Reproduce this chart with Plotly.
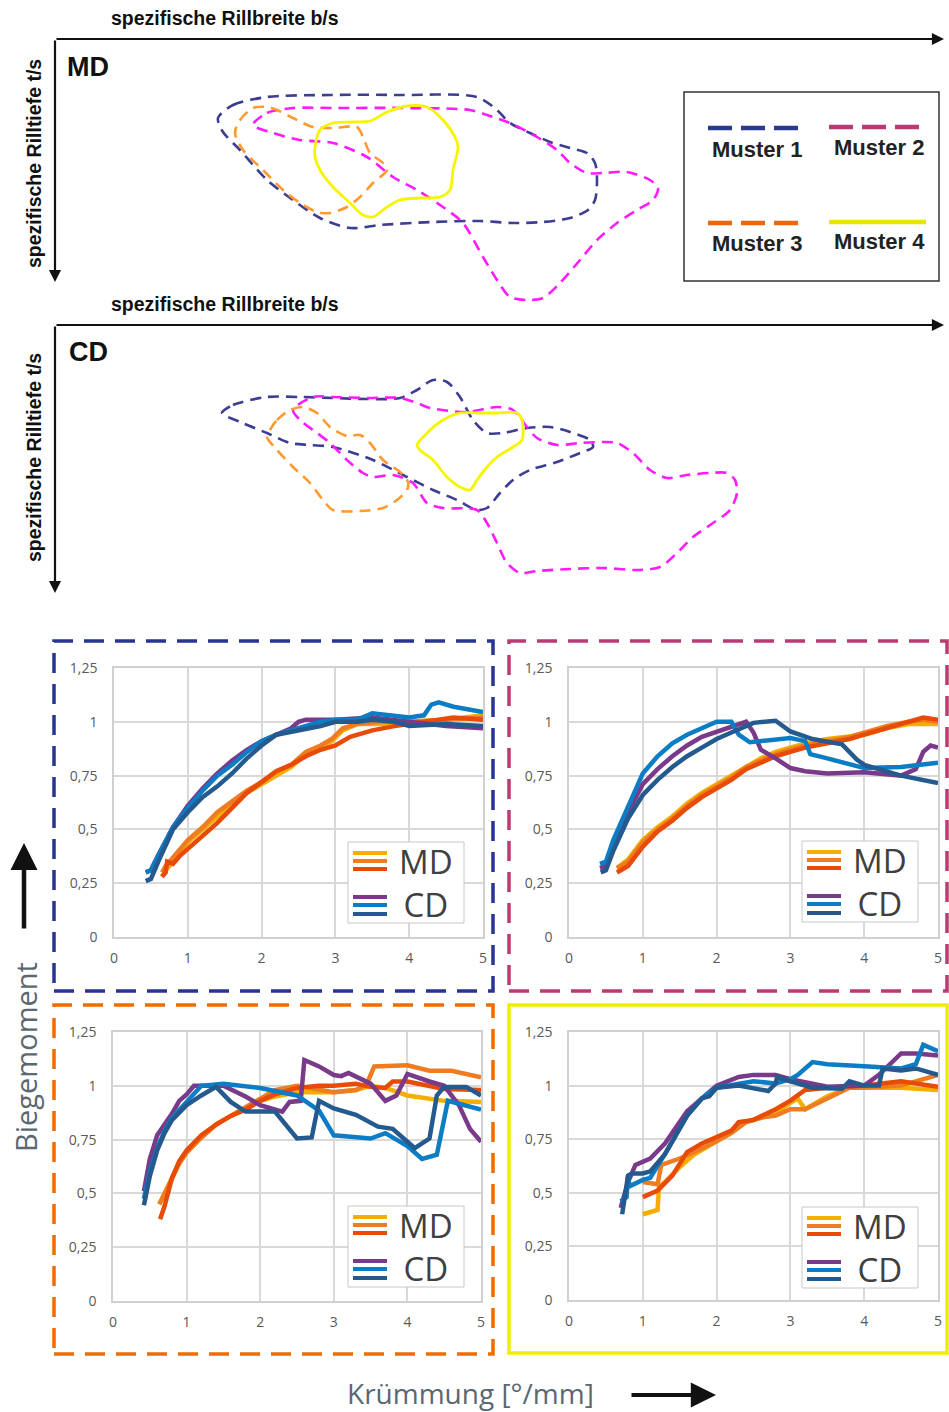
import plotly.graph_objects as go

W, H = 949, 1412

# ---------------- contour data: b/s (x) and t/s (y), arbitrary units from panel origin ----------------
MD_M1_B = [163,178,212,275,345,422,442,455,475,495,515,532,540,542,540,533,515,488,458,425,378,325,295,265,238,212,185,168,163]
MD_M1_T = [79,66,58,56,56,58,71,84,94,103,109,114,124,141,161,171,179,183,184,182,183,186,189,179,161,141,111,93,79]
MD_M2_B = [198,212,238,278,345,415,432,455,482,502,515,532,548,572,595,603,598,582,562,542,525,505,488,472,455,442,428,408,388,362,338,312,278,245,218,198]
MD_M2_T = [86,74,69,69,69,71,76,84,98,111,124,134,134,133,141,149,161,171,184,201,221,244,259,261,258,241,218,184,168,151,138,118,104,101,94,86]
MD_M3_B = [180,185,198,212,222,238,258,278,302,308,315,328,332,318,305,292,275,262,245,228,208,188,180]
MD_M3_T = [94,81,69,68,71,79,88,89,88,98,114,124,131,144,158,168,174,173,164,151,131,111,94]
MD_M4_B = [260,265,278,298,315,332,352,372,388,400,403,398,395,385,365,345,332,318,308,295,278,265,260,260]
MD_M4_T = [108,91,84,83,82,73,67,68,81,98,108,131,151,158,159,161,168,178,176,164,148,131,118,108]

CD_M1_B = [167,178,212,245,278,312,345,362,378,392,405,418,432,448,472,495,515,535,538,525,502,475,458,445,432,422,402,378,352,318,278,255,235,212,185,167]
CD_M1_T = [88,80,72,72,73,74,73,65,55,57,72,95,108,108,103,102,107,115,122,128,137,145,155,168,183,185,175,165,152,135,122,120,118,108,97,88]
CD_M2_B = [238,258,278,312,345,362,375,412,442,458,472,482,502,525,548,562,578,595,612,632,655,672,680,682,675,658,638,622,605,582,548,515,482,465,452,442,432,422,388,372,358,338,318,308,292,275,262,245,238]
CD_M2_T = [85,72,72,73,73,78,83,87,82,85,102,113,120,118,117,118,128,145,153,150,148,148,155,168,185,198,212,228,242,245,243,244,246,248,238,218,198,185,183,178,158,150,152,148,135,118,108,95,85]
CD_M3_B = [215,222,235,248,262,275,292,305,315,328,345,353,352,342,328,305,278,268,255,238,222,212,215]
CD_M3_T = [105,95,85,82,88,102,111,110,118,135,147,157,165,175,183,186,185,175,158,142,125,112,105]
CD_M4_B = [362,372,388,405,425,442,462,467,467,458,442,432,422,415,405,392,378,365,362]
CD_M4_T = [120,108,95,88,88,88,88,95,115,122,132,142,155,165,162,152,135,125,120]

MUSTER_NAMES = ["Muster 1", "Muster 2", "Muster 3", "Muster 4"]
PANEL_NAMES = ["MD", "CD"]

# ---------------- Biegemoment vs. Krümmung curves ----------------
X_TICKS = [0, 1, 2, 3, 4, 5]
X_TICK_LABELS = ["0", "1", "2", "3", "4", "5"]
Y_TICKS = [0, 0.25, 0.5, 0.75, 1, 1.25]
Y_TICK_LABELS = ["0", "0,25", "0,5", "0,75", "1", "1,25"]

# Muster 1
M1_MD_A_X = [0.65,0.7,0.8,0.9,1.0,1.2,1.4,1.6,1.8,2.0,2.2,2.4,2.6,2.8,2.95,3.1,3.3,3.6,4.0,4.5,5.0]
M1_MD_A_Y = [0.28,0.31,0.35,0.40,0.44,0.50,0.56,0.62,0.67,0.71,0.75,0.79,0.85,0.88,0.91,0.96,0.99,0.99,1.0,1.01,1.03]
M1_MD_B_X = [0.65,0.7,0.8,0.9,1.0,1.2,1.4,1.6,1.8,2.0,2.2,2.4,2.6,2.8,2.95,3.1,3.3,3.6,4.0,4.5,5.0]
M1_MD_B_Y = [0.30,0.33,0.37,0.41,0.45,0.51,0.58,0.63,0.68,0.72,0.77,0.80,0.86,0.89,0.92,0.97,0.99,1.0,1.0,1.01,1.02]
M1_MD_C_X = [0.65,0.7,0.72,0.8,0.9,1.0,1.2,1.4,1.6,1.8,2.0,2.2,2.4,2.6,2.8,3.0,3.2,3.5,3.8,4.0,4.3,4.6,5.0]
M1_MD_C_Y = [0.28,0.30,0.35,0.34,0.38,0.41,0.47,0.53,0.60,0.67,0.72,0.77,0.80,0.84,0.87,0.89,0.93,0.96,0.98,0.99,1.01,1.02,1.01]
M1_CD_D_X = [0.43,0.5,0.6,0.7,0.8,1.0,1.2,1.4,1.6,1.8,2.0,2.2,2.4,2.5,2.6,2.8,3.0,3.5,4.0,4.5,5.0]
M1_CD_D_Y = [0.30,0.31,0.38,0.45,0.51,0.61,0.69,0.76,0.82,0.87,0.91,0.94,0.97,1.0,1.01,1.01,1.01,1.02,1.0,0.98,0.97]
M1_CD_E_X = [0.43,0.5,0.6,0.7,0.8,1.0,1.2,1.4,1.6,1.8,2.0,2.2,2.5,2.8,3.0,3.3,3.5,3.7,4.0,4.2,4.3,4.4,4.6,5.0]
M1_CD_E_Y = [0.30,0.31,0.38,0.45,0.51,0.60,0.68,0.75,0.80,0.86,0.91,0.94,0.97,1.0,1.01,1.01,1.04,1.03,1.02,1.03,1.08,1.09,1.07,1.045]
M1_CD_F_X = [0.43,0.5,0.6,0.7,0.8,1.0,1.2,1.4,1.6,1.8,2.0,2.2,2.5,2.8,3.0,3.3,3.5,3.8,4.0,4.5,5.0]
M1_CD_F_Y = [0.26,0.27,0.35,0.43,0.50,0.58,0.65,0.70,0.76,0.83,0.89,0.94,0.96,0.98,1.0,1.0,1.01,1.0,0.98,0.99,0.98]

# Muster 2
M2_MD_A_X = [0.65,0.8,1.0,1.2,1.4,1.6,1.8,2.0,2.2,2.4,2.6,2.8,3.0,3.2,3.5,3.8,4.0,4.3,4.6,4.8,5.0]
M2_MD_A_Y = [0.32,0.36,0.45,0.51,0.56,0.62,0.67,0.71,0.75,0.79,0.83,0.86,0.88,0.90,0.92,0.93,0.94,0.97,0.99,0.99,0.99]
M2_MD_B_X = [0.65,0.8,1.0,1.2,1.4,1.6,1.8,2.0,2.2,2.4,2.6,2.8,3.0,3.2,3.5,3.8,4.0,4.3,4.6,4.8,5.0]
M2_MD_B_Y = [0.32,0.35,0.44,0.50,0.55,0.61,0.66,0.70,0.74,0.79,0.82,0.85,0.87,0.89,0.91,0.93,0.95,0.98,1.0,1.01,1.0]
M2_MD_C_X = [0.65,0.8,1.0,1.2,1.4,1.6,1.8,2.0,2.2,2.4,2.6,2.8,3.0,3.2,3.5,3.8,4.0,4.3,4.6,4.8,5.0]
M2_MD_C_Y = [0.30,0.33,0.42,0.49,0.54,0.60,0.65,0.69,0.73,0.78,0.81,0.84,0.86,0.88,0.90,0.92,0.94,0.97,1.0,1.02,1.01]
M2_CD_D_X = [0.42,0.5,0.6,0.8,1.0,1.2,1.4,1.6,1.8,2.0,2.2,2.4,2.5,2.6,2.8,3.0,3.2,3.5,4.0,4.5,4.7,4.8,4.9,5.0]
M2_CD_D_Y = [0.32,0.33,0.42,0.58,0.71,0.78,0.84,0.89,0.93,0.955,0.98,1.0,0.95,0.87,0.83,0.785,0.77,0.76,0.765,0.75,0.78,0.86,0.89,0.88]
M2_CD_E_X = [0.42,0.5,0.6,0.8,1.0,1.2,1.4,1.6,1.8,2.0,2.2,2.3,2.45,2.8,3.0,3.2,3.27,3.5,4.0,4.5,5.0]
M2_CD_E_Y = [0.34,0.35,0.45,0.61,0.76,0.84,0.90,0.94,0.97,1.0,1.0,0.94,0.905,0.915,0.925,0.91,0.85,0.83,0.785,0.79,0.81]
M2_CD_F_X = [0.43,0.5,0.6,0.8,1.0,1.2,1.4,1.6,1.8,2.0,2.2,2.5,2.8,2.9,3.0,3.3,3.7,3.9,4.0,4.5,5.0]
M2_CD_F_Y = [0.30,0.31,0.40,0.55,0.66,0.73,0.79,0.84,0.88,0.92,0.95,0.995,1.005,0.98,0.955,0.92,0.895,0.825,0.80,0.75,0.715]

# Muster 3
M3_MD_A_X = [0.63,0.7,0.8,0.9,1.0,1.2,1.4,1.6,1.8,2.0,2.2,2.5,2.8,3.0,3.3,3.5,3.7,4.0,4.5,5.0]
M3_MD_A_Y = [0.45,0.50,0.58,0.64,0.69,0.76,0.82,0.86,0.89,0.93,0.95,0.97,0.97,0.97,0.98,1.0,0.99,0.955,0.93,0.925]
M3_MD_B_X = [0.63,0.7,0.8,0.9,1.0,1.2,1.4,1.6,1.8,2.0,2.2,2.5,2.8,3.0,3.3,3.45,3.55,3.7,4.0,4.3,4.6,5.0]
M3_MD_B_Y = [0.45,0.50,0.58,0.64,0.69,0.76,0.82,0.86,0.90,0.94,0.98,1.0,0.98,0.97,0.98,1.01,1.09,1.09,1.095,1.07,1.07,1.04]
M3_MD_C_X = [0.64,0.7,0.8,0.9,1.0,1.2,1.4,1.6,1.8,2.0,2.2,2.5,2.8,3.0,3.3,3.5,3.7,3.8,4.0,4.5,5.0]
M3_MD_C_Y = [0.38,0.44,0.57,0.65,0.70,0.77,0.82,0.86,0.89,0.93,0.96,0.99,1.0,1.0,1.01,0.995,0.99,1.02,1.02,0.985,0.98]
M3_CD_D_X = [0.42,0.5,0.6,0.7,0.8,0.9,1.0,1.1,1.5,1.8,2.0,2.3,2.4,2.55,2.6,2.8,3.0,3.1,3.2,3.5,3.7,3.85,4.0,4.3,4.5,4.7,4.85,5.0]
M3_CD_D_Y = [0.51,0.66,0.77,0.82,0.87,0.93,0.96,1.0,1.0,0.95,0.91,0.88,0.925,0.93,1.12,1.09,1.05,1.045,1.06,1.01,0.93,0.955,1.055,1.02,1.0,0.91,0.80,0.74]
M3_CD_E_X = [0.42,0.5,0.6,0.7,0.8,1.0,1.2,1.5,2.0,2.5,2.8,3.0,3.5,3.7,4.0,4.2,4.4,4.55,5.0]
M3_CD_E_Y = [0.475,0.60,0.71,0.79,0.85,0.925,1.0,1.01,0.99,0.955,0.885,0.77,0.755,0.78,0.72,0.66,0.68,0.93,0.89]
M3_CD_F_X = [0.42,0.5,0.6,0.7,0.8,1.0,1.2,1.4,1.6,1.8,2.2,2.5,2.7,2.8,3.0,3.3,3.6,3.8,4.0,4.1,4.3,4.4,4.5,4.8,5.0]
M3_CD_F_Y = [0.445,0.58,0.70,0.78,0.84,0.91,0.955,0.995,0.925,0.88,0.88,0.755,0.76,0.93,0.895,0.865,0.81,0.80,0.74,0.71,0.755,0.955,0.995,0.995,0.955]

# Muster 4
M4_MD_A_X = [1.0,1.1,1.2,1.22,1.3,1.5,1.7,2.0,2.2,2.4,2.6,2.8,3.0,3.1,3.2,3.5,3.8,4.0,4.5,5.0]
M4_MD_A_Y = [0.40,0.41,0.42,0.53,0.55,0.62,0.68,0.74,0.78,0.83,0.85,0.87,0.92,0.94,0.89,0.95,0.99,0.99,0.99,0.98]
M4_MD_B_X = [1.0,1.2,1.25,1.5,1.7,2.0,2.2,2.4,2.6,2.8,3.0,3.2,3.5,3.8,4.0,4.5,5.0]
M4_MD_B_Y = [0.55,0.54,0.63,0.66,0.69,0.74,0.78,0.83,0.85,0.86,0.89,0.89,0.94,0.99,0.99,1.0,1.05]
M4_MD_C_X = [1.0,1.2,1.4,1.6,1.8,2.0,2.2,2.3,2.5,2.8,3.0,3.2,3.5,4.0,4.5,5.0]
M4_MD_C_Y = [0.48,0.51,0.58,0.69,0.73,0.76,0.79,0.83,0.84,0.89,0.93,0.98,0.99,1.0,1.02,0.995]
M4_CD_D_X = [0.7,0.8,0.9,1.1,1.3,1.6,1.8,2.0,2.3,2.5,2.8,3.0,3.5,4.0,4.2,4.35,4.5,4.7,5.0]
M4_CD_D_Y = [0.43,0.55,0.63,0.66,0.73,0.88,0.94,1.0,1.04,1.05,1.05,1.03,0.995,1.0,1.05,1.1,1.15,1.15,1.14]
M4_CD_E_X = [0.7,0.78,0.8,0.82,1.0,1.1,1.3,1.6,1.8,2.0,2.5,2.8,3.0,3.1,3.3,3.5,4.0,4.5,4.7,4.8,5.0]
M4_CD_E_Y = [0.46,0.48,0.58,0.53,0.56,0.57,0.68,0.86,0.94,0.99,1.02,1.01,1.03,1.05,1.11,1.10,1.09,1.08,1.10,1.19,1.16]
M4_CD_F_X = [0.72,0.8,0.85,1.0,1.1,1.3,1.6,1.8,1.9,2.0,2.3,2.7,2.8,2.82,3.0,3.3,3.7,3.8,4.0,4.2,4.25,4.5,4.7,5.0]
M4_CD_F_Y = [0.40,0.58,0.59,0.59,0.60,0.68,0.86,0.94,0.95,0.99,1.0,0.975,1.01,1.04,1.02,0.99,0.985,1.02,1.0,1.0,1.08,1.07,1.08,1.05]

MD_COLORS = ["#f5ae00", "#ee7c22", "#e84a08"]
CD_COLORS = ["#7a3a8a", "#0c7cc4", "#255a8e"]
CONTOUR_COLORS = ["#3d3d92", "#ff1aff", "#ff9a30", "#f5f500"]
LEGEND_COLORS = ["#2b3a8f", "#b83a74", "#e8680f", "#e6e600"]
BORDER_COLORS = ["#283593", "#b83b72", "#ef6c00", "#eeee00"]


def px(v):
    return v / W


def py(v):
    return 1 - v / H


def label(x, y, text, size, color, family="Liberation Sans, Arial", angle=0):
    return dict(x=px(x), y=py(y), xref="paper", yref="paper", showarrow=False, text=text,
                xanchor="center", yanchor="middle", textangle=angle,
                font=dict(family=family, size=size, color=color))


def arrow(x, y, ax, ay, width, size):
    return dict(x=px(x), y=py(y), xref="paper", yref="paper", ax=ax, ay=ay, text="",
                showarrow=True, arrowhead=2, arrowsize=size, arrowwidth=width,
                arrowcolor="#111111", standoff=0, startstandoff=0)


fig = go.Figure()

# ---------- contour panels ----------
md_sets = [(MD_M1_B, MD_M1_T), (MD_M2_B, MD_M2_T), (MD_M3_B, MD_M3_T), (MD_M4_B, MD_M4_T)]
cd_sets = [(CD_M1_B, CD_M1_T), (CD_M2_B, CD_M2_T), (CD_M3_B, CD_M3_T), (CD_M4_B, CD_M4_T)]
for axes, sets in (("5", md_sets), ("6", cd_sets)):
    for i, (b, t) in enumerate(sets):
        fig.add_trace(go.Scatter(
            x=b, y=t, mode="lines", xaxis="x" + axes, yaxis="y" + axes,
            line=dict(color=CONTOUR_COLORS[i], width=2.6 if i < 3 else 2.8,
                      dash="11px,7px" if i < 3 else "solid", shape="spline", smoothing=0.8),
            name=MUSTER_NAMES[i], hoverinfo="skip"))

# ---------- curve panels ----------
curves = [
    [(M1_MD_A_X, M1_MD_A_Y), (M1_MD_B_X, M1_MD_B_Y), (M1_MD_C_X, M1_MD_C_Y),
     (M1_CD_D_X, M1_CD_D_Y), (M1_CD_E_X, M1_CD_E_Y), (M1_CD_F_X, M1_CD_F_Y)],
    [(M2_MD_A_X, M2_MD_A_Y), (M2_MD_B_X, M2_MD_B_Y), (M2_MD_C_X, M2_MD_C_Y),
     (M2_CD_D_X, M2_CD_D_Y), (M2_CD_E_X, M2_CD_E_Y), (M2_CD_F_X, M2_CD_F_Y)],
    [(M3_MD_A_X, M3_MD_A_Y), (M3_MD_B_X, M3_MD_B_Y), (M3_MD_C_X, M3_MD_C_Y),
     (M3_CD_D_X, M3_CD_D_Y), (M3_CD_E_X, M3_CD_E_Y), (M3_CD_F_X, M3_CD_F_Y)],
    [(M4_MD_A_X, M4_MD_A_Y), (M4_MD_B_X, M4_MD_B_Y), (M4_MD_C_X, M4_MD_C_Y),
     (M4_CD_D_X, M4_CD_D_Y), (M4_CD_E_X, M4_CD_E_Y), (M4_CD_F_X, M4_CD_F_Y)],
]
series_colors = MD_COLORS + CD_COLORS
for k, group in enumerate(curves):
    suffix = "" if k == 0 else str(k + 1)
    for j, (xs, ys) in enumerate(group):
        fig.add_trace(go.Scatter(
            x=xs, y=ys, mode="lines", xaxis="x" + suffix, yaxis="y" + suffix,
            line=dict(color=series_colors[j], width=4.5),
            name=("MD" if j < 3 else "CD"), hoverinfo="skip"))

# ---------- axes ----------
areas = [(114, 483, 668, 937), (569, 938, 668, 937), (113, 481, 1032, 1301), (569, 938, 1032, 1300)]
layout_axes = {}
tick_font = dict(family="Open Sans", size=14, color="#595959")
for k, (l, r, t, b) in enumerate(areas):
    suffix = "" if k == 0 else str(k + 1)
    layout_axes["xaxis" + suffix] = dict(
        domain=[px(l), px(r)], range=[0, 5], anchor="y" + suffix, automargin=False,
        tickvals=X_TICKS, ticktext=X_TICK_LABELS, showgrid=True, gridcolor="#d9d9d9", gridwidth=1.5,
        zeroline=False, showline=True, linecolor="#d0d0d0", linewidth=1.5, mirror=True,
        ticks="", ticklabelstandoff=7, tickfont=tick_font, fixedrange=True)
    layout_axes["yaxis" + suffix] = dict(
        domain=[py(b), py(t)], range=[0, 1.25], anchor="x" + suffix, automargin=False,
        tickvals=Y_TICKS, ticktext=Y_TICK_LABELS, showgrid=True, gridcolor="#d9d9d9", gridwidth=1.5,
        zeroline=False, showline=True, linecolor="#d0d0d0", linewidth=1.5, mirror=True,
        ticks="", ticklabelstandoff=12, tickfont=tick_font, fixedrange=True)

layout_axes["xaxis5"] = dict(domain=[px(55), px(943)], range=[0, 888], anchor="y5", visible=False,
                             fixedrange=True, automargin=False)
layout_axes["yaxis5"] = dict(domain=[py(310), py(39)], range=[271, 0], anchor="x5", visible=False,
                             fixedrange=True, automargin=False)
layout_axes["xaxis6"] = dict(domain=[px(55), px(943)], range=[0, 888], anchor="y6", visible=False,
                             fixedrange=True, automargin=False)
layout_axes["yaxis6"] = dict(domain=[py(592), py(325)], range=[267, 0], anchor="x6", visible=False,
                             fixedrange=True, automargin=False)

shapes = []
annotations = []

# ---------- top panels: arrows and labels ----------
for (oy, endy, title_y, name_y, rot_y, pname) in [
        (39, 282, 18, 67, 164, PANEL_NAMES[0]),
        (325, 593, 304, 352, 458, PANEL_NAMES[1])]:
    annotations.append(arrow(944, oy, -889, 0, 2.2, 1.1))
    annotations.append(arrow(55, endy, 0, -(endy - oy), 2.2, 1.1))
    annotations.append(label(225, title_y, "<b>spezifische Rillbreite b/s</b>", 19.5, "#111111"))
    annotations.append(label(34, rot_y, "<b>spezifische Rilltiefe t/s</b>", 19.5, "#111111", angle=-90))
    annotations.append(label(88, name_y, "<b>" + pname + "</b>", 27, "#111111"))

# Muster legend box
shapes.append(dict(type="rect", xref="paper", yref="paper", x0=px(684), x1=px(939), y0=py(281), y1=py(92),
                   line=dict(color="#333333", width=1.5), fillcolor="rgba(0,0,0,0)"))
leg_items = [(708, 798, 128, 757, 149), (829, 919, 127, 879, 148), (708, 798, 223, 757, 243), (829, 926, 222, 879, 242)]
for i, (x0, x1, ly, tx, ty) in enumerate(leg_items):
    shapes.append(dict(type="line", xref="paper", yref="paper", x0=px(x0), x1=px(x1), y0=py(ly), y1=py(ly),
                       line=dict(color=LEGEND_COLORS[i], width=4.5,
                                 dash="24px,9px" if i < 3 else "solid")))
    annotations.append(label(tx, ty, "<b>" + MUSTER_NAMES[i] + "</b>", 22, "#222222"))

# ---------- curve panels: frames and legends ----------
frames = [(54, 641, 493, 991), (509, 641, 947, 991), (54, 1005, 493, 1354), (509, 1005, 947, 1353)]
for k, (x0, y0, x1, y1) in enumerate(frames):
    shapes.append(dict(type="rect", xref="paper", yref="paper", x0=px(x0), x1=px(x1), y0=py(y1), y1=py(y0),
                       line=dict(color=BORDER_COLORS[k], width=3.5,
                                 dash="20px,11px" if k < 3 else "solid"),
                       fillcolor="rgba(0,0,0,0)"))

leg_boxes = [(348, 842), (802, 841), (348, 1206), (802, 1207)]
for (bx, by) in leg_boxes:
    shapes.append(dict(type="rect", xref="paper", yref="paper", x0=px(bx), x1=px(bx + 116),
                       y0=py(by + 81), y1=py(by), line=dict(color="#c8c8c8", width=1),
                       fillcolor="white"))
    for j, off in enumerate([11, 19, 27]):
        shapes.append(dict(type="line", xref="paper", yref="paper", x0=px(bx + 5), x1=px(bx + 39),
                           y0=py(by + off), y1=py(by + off), line=dict(color=MD_COLORS[j], width=4)))
    for j, off in enumerate([55, 63, 72]):
        shapes.append(dict(type="line", xref="paper", yref="paper", x0=px(bx + 5), x1=px(bx + 39),
                           y0=py(by + off), y1=py(by + off), line=dict(color=CD_COLORS[j], width=4)))
    annotations.append(label(bx + 78, by + 41, PANEL_NAMES[0] + "<br>" + PANEL_NAMES[1], 33,
                             "#404040", family="Open Sans"))

# ---------- global axis labels and arrows ----------
annotations.append(label(25, 1057, "Biegemoment", 29, "#5a6872", family="Open Sans", angle=-90))
annotations.append(label(470, 1393, "Krümmung [°/mm]", 28, "#5a6872", family="Open Sans"))
annotations.append(arrow(24, 843, 0, 87, 4.5, 1.2))
annotations.append(arrow(716, 1395, -86, 0, 4.2, 1.2))

fig.update_layout(
    width=W, height=H, margin=dict(l=0, r=0, t=0, b=0, pad=0, autoexpand=False),
    paper_bgcolor="white", plot_bgcolor="white", showlegend=False,
    shapes=shapes, annotations=annotations, **layout_axes)

fig.write_html("out.html")
